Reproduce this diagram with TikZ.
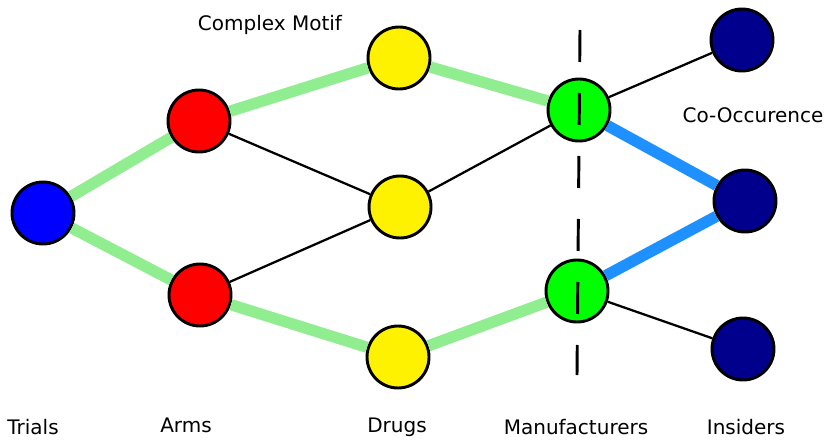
\documentclass[tikz,border=0pt]{standalone}
\usepackage{fontspec}
\setmainfont{DejaVu Sans}
\definecolor{edgegreen}{RGB}{144,238,144}
\definecolor{edgeblue}{RGB}{30,144,255}
\definecolor{insnavy}{RGB}{0,0,140}
\tikzset{
  ent/.style={circle,draw=black,line width=2.2pt,minimum size=46.5pt,inner sep=0pt},
  motif/.style={edgegreen,line width=8.5pt},
  cooc/.style={edgeblue,line width=8.5pt},
  plain/.style={black,line width=1.7pt},
  lbl/.style={font=\fontsize{15}{18}\selectfont,inner sep=0pt}
}
\begin{document}
\begin{tikzpicture}[x=0.75pt,y=0.75pt,yscale=-1,xscale=1]
\useasboundingbox (0,0) rectangle (827,439);
% entities
\node[ent,fill=blue] (trial) at (43,213) {};
\node[ent,fill=red] (arm1) at (199,121) {};
\node[ent,fill=red] (arm2) at (200,295) {};
\node[ent,fill=yellow] (drug1) at (399,58) {};
\node[ent,fill=yellow] (drug2) at (400,207) {};
\node[ent,fill=yellow] (drug3) at (398,357) {};
\node[ent,fill=green] (man1) at (579,110) {};
\node[ent,fill=green] (man2) at (577,291) {};
\node[ent,fill=insnavy] (ins1) at (742,40) {};
\node[ent,fill=insnavy] (ins2) at (745,201) {};
\node[ent,fill=insnavy] (ins3) at (743,349) {};
% edges
\draw[motif] (trial) -- (arm1);
\draw[motif] (trial) -- (arm2);
\draw[motif] (arm1) -- (drug1);
\draw[motif] (drug1) -- (man1);
\draw[motif] (arm2) -- (drug3);
\draw[motif] (drug3) -- (man2);
\draw[cooc] (man1) -- (ins2);
\draw[cooc] (man2) -- (ins2);
\draw[plain] (arm1) -- (drug2);
\draw[plain] (arm2) -- (drug2);
\draw[plain] (drug2) -- (man1);
\draw[plain] (man1) -- (ins1);
\draw[plain] (man2) -- (ins3);
% separator
\coordinate (sepTop) at (580,30);
\coordinate (sepBot) at (577,375);
\draw[black,line width=2.2pt,dash pattern=on 24pt off 23.25pt] (sepTop) -- (sepBot);
% labels
\node[lbl] (lmotif) at (270,25) {Complex Motif};
\node[lbl] (lcooc) at (753,115) {Co-Occurence};
\node[lbl] (ltrial) at (33,427) {Trials};
\node[lbl] (larm) at (186,425) {Arms};
\node[lbl] (ldrug) at (397,427) {Drugs};
\node[lbl] (lman) at (576,427) {Manufacturers};
\node[lbl] (lins) at (746,427) {Insiders};
\end{tikzpicture}
\end{document}
